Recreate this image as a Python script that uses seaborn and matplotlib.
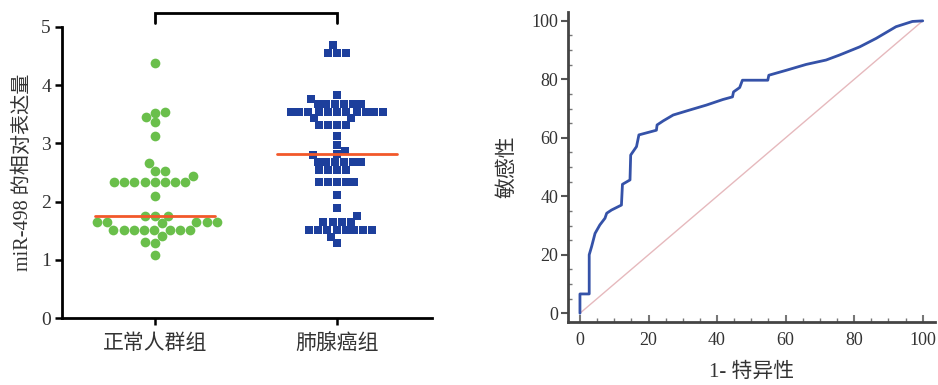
import numpy as np
import pandas as pd
import matplotlib
matplotlib.use("Agg")
import matplotlib.pyplot as plt
from matplotlib.ticker import MultipleLocator
import seaborn as sns

# ---- data ----
groups = ["正常人群组", "肺腺癌组"]

normal_expr = [4.38, 3.54, 3.53, 3.45, 3.36, 3.12, 2.67, 2.53, 2.53, 2.44,
               2.33, 2.33, 2.33, 2.33, 2.33, 2.33, 2.33, 2.33, 2.10,
               1.76, 1.76, 1.76, 1.65, 1.65, 1.65, 1.65, 1.65, 1.63,
               1.52, 1.52, 1.52, 1.52, 1.52, 1.52, 1.52, 1.52,
               1.41, 1.31, 1.29, 1.08]

cancer_expr = [4.69, 4.56, 4.56, 4.56, 3.83, 3.77,
               3.68, 3.68, 3.68, 3.68, 3.68, 3.68,
               3.54, 3.54, 3.54, 3.54, 3.54, 3.54, 3.54, 3.54, 3.54, 3.54, 3.54,
               3.43, 3.43, 3.32, 3.32, 3.32, 3.32, 3.12, 2.97, 2.87, 2.82, 2.80,
               2.68, 2.68, 2.68, 2.68, 2.68, 2.68,
               2.54, 2.54, 2.54, 2.54,
               2.34, 2.34, 2.34, 2.34, 2.34, 2.11, 1.89, 1.75,
               1.65, 1.65, 1.65, 1.65,
               1.52, 1.52, 1.52, 1.52, 1.52, 1.52, 1.52, 1.52, 1.40, 1.29]

# ROC curve: 1 - specificity (%) vs sensitivity (%)
roc_fpr = [0, 0, 2.7, 2.7, 3.4, 4.4, 5.8, 7.3, 7.8, 9.2, 12.1, 12.4, 14.6, 14.8,
           16.5, 17.2, 20.4, 22.3, 22.5, 24.3, 27.2, 32.0, 36.9, 41.7, 44.5, 44.8,
           46.6, 47.4, 54.8, 55.1, 60.2, 66.0, 71.8, 75.7, 81.6, 86.4, 92.2, 97.0, 100]
roc_tpr = [0, 6.6, 6.6, 20.0, 22.8, 27.3, 30.2, 32.5, 34.2, 35.3, 37.0, 44.1, 45.6, 54.1,
           57.0, 61.0, 62.0, 62.6, 64.4, 65.8, 67.8, 69.5, 71.2, 73.1, 74.0, 75.7,
           77.2, 79.7, 79.7, 81.4, 83.1, 85.1, 86.6, 88.3, 91.1, 94.0, 98.0, 99.8, 100]

left_yticks = [0, 1, 2, 3, 4, 5]
right_ticks = [0, 20, 40, 60, 80, 100]

# ---- styling ----
sns.set_theme(style="white")
SERIF = ["Liberation Serif", "Noto Sans CJK SC"]
CJK = ["Noto Sans CJK SC", "Liberation Serif"]
plt.rcParams["font.family"] = SERIF

green = "#6abf4b"
blue = "#1d3f9c"
median_red = "#f2582a"
roc_blue = "#3552a8"
diag_pink = "#e6b9bd"
text_col = "#333333"

fig = plt.figure(figsize=(9.38, 3.85), dpi=100)
ax1 = fig.add_axes([0.0661, 0.174, 0.394, 0.756])
ax2 = fig.add_axes([0.6055, 0.1636, 0.391, 0.805])

# ---- left panel: scatter of relative expression ----
df = pd.DataFrame({
    "group": [groups[0]] * len(normal_expr) + [groups[1]] * len(cancer_expr),
    "expr": normal_expr + cancer_expr,
})
sns.swarmplot(data=df[df.group == groups[0]], x="group", y="expr", order=groups,
              color=green, marker="o", size=7, linewidth=0, ax=ax1)
sns.swarmplot(data=df[df.group == groups[1]], x="group", y="expr", order=groups,
              color=blue, marker="s", size=6, linewidth=0, ax=ax1)

for i, vals in enumerate([normal_expr, cancer_expr]):
    med = float(np.median(vals))
    ax1.plot([i - 0.33, i + 0.33], [med, med], color=median_red, lw=2, zorder=5)

# significance bracket
ax1.plot([0, 0, 1, 1], [5.07, 5.24, 5.24, 5.07], color="black", lw=2,
         clip_on=False, solid_joinstyle="miter")

ax1.set_xlim(-0.51, 1.52)
ax1.set_ylim(0, 5)
ax1.set_yticks(left_yticks)
ax1.set_yticklabels([str(v) for v in left_yticks], fontsize=14, color=text_col,
                    family=SERIF)
ax1.set_xticks([0, 1])
ax1.set_xticklabels(groups, fontsize=15, color=text_col, family=CJK)
ax1.set_xlabel("")
ax1.set_ylabel("miR-498 的相对表达量", fontsize=14.5, color=text_col, family=SERIF,
               labelpad=6)
ax1.tick_params(axis="y", direction="out", length=5, width=1.8, color="black",
                left=True, pad=3)
ax1.tick_params(axis="x", direction="out", length=5, width=1.8, color="black",
                bottom=True, pad=5)
for s in ["top", "right"]:
    ax1.spines[s].set_visible(False)
for s in ["left", "bottom"]:
    ax1.spines[s].set_color("black")
    ax1.spines[s].set_linewidth(2)

# ---- right panel: ROC curve ----
roc_df = pd.DataFrame({"fpr": roc_fpr, "tpr": roc_tpr})
ax2.plot([0, 100], [0, 100], color=diag_pink, lw=1)
sns.lineplot(data=roc_df, x="fpr", y="tpr", sort=False, estimator=None,
             color=roc_blue, lw=2, ax=ax2)

ax2.set_xlim(-3.5, 103.5)
ax2.set_ylim(-3, 103)
ax2.set_xticks(right_ticks)
ax2.set_yticks(right_ticks)
ax2.xaxis.set_minor_locator(MultipleLocator(5))
ax2.yaxis.set_minor_locator(MultipleLocator(5))
ax2.set_xticklabels([str(v) for v in right_ticks], fontsize=13, color=text_col,
                    family=SERIF)
ax2.set_yticklabels([str(v) for v in right_ticks], fontsize=13, color=text_col,
                    family=SERIF)
ax2.set_xlabel("1- 特异性", fontsize=15, color=text_col, family=SERIF, labelpad=10)
ax2.set_ylabel("敏感性", fontsize=15, color=text_col, family=CJK, labelpad=10)
ax2.tick_params(axis="y", which="major", direction="out", length=5, width=1.5,
                color="#555555", left=True, pad=2)
ax2.tick_params(axis="y", which="minor", direction="in", length=3, width=1,
                color="#777777", left=True)
ax2.tick_params(axis="x", which="major", direction="in", length=5, width=1.5,
                color="#777777", bottom=True, pad=7)
ax2.tick_params(axis="x", which="minor", direction="in", length=3, width=1,
                color="#777777", bottom=True)
for s in ["top", "right"]:
    ax2.spines[s].set_visible(False)
for s in ["left", "bottom"]:
    ax2.spines[s].set_color("#444444")
    ax2.spines[s].set_linewidth(2)

fig.savefig("out.png", dpi=100, facecolor="white")
